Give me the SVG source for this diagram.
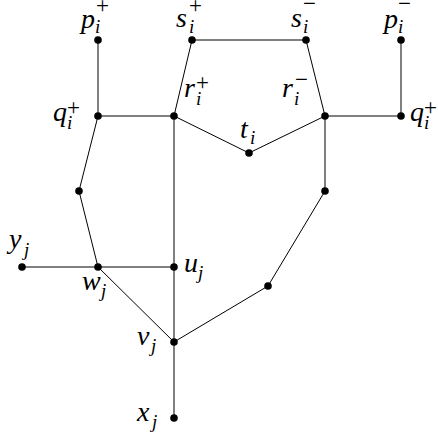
<svg xmlns="http://www.w3.org/2000/svg" width="438" height="436" viewBox="0 0 438 436" font-family="'Liberation Serif', 'Times New Roman', serif">
<style>
.e{stroke:#000;stroke-width:1;fill:none;stroke-linecap:round}
.n{fill:#000}
</style>
<rect width="438" height="436" fill="#fff"/>
<g id="connectors">
<line class="e" x1="98" y1="40" x2="98" y2="116"/>
<line class="e" x1="192" y1="40" x2="306" y2="40"/>
<line class="e" x1="401" y1="40" x2="401" y2="116"/>
<line class="e" x1="98" y1="116" x2="174" y2="116"/>
<line class="e" x1="325" y1="116" x2="401" y2="116"/>
<line class="e" x1="174" y1="116" x2="192" y2="40"/>
<line class="e" x1="325" y1="116" x2="306" y2="40"/>
<line class="e" x1="174" y1="116" x2="249" y2="153"/>
<line class="e" x1="249" y1="153" x2="325" y2="116"/>
<line class="e" x1="98" y1="116" x2="79" y2="191"/>
<line class="e" x1="79" y1="191" x2="98" y2="267"/>
<line class="e" x1="22" y1="267" x2="174" y2="267"/>
<line class="e" x1="174" y1="116" x2="174" y2="418"/>
<line class="e" x1="98" y1="267" x2="174" y2="342"/>
<line class="e" x1="325" y1="116" x2="325" y2="191"/>
<line class="e" x1="325" y1="191" x2="268" y2="286"/>
<line class="e" x1="268" y1="286" x2="174" y2="342"/>
</g>
<g id="p_plus"><circle class="n" cx="98" cy="40" r="3.8"/><text font-size="28" font-style="italic" x="81" y="28">p</text><text font-size="19" font-style="italic" x="95" y="33">i</text><text font-size="23" x="96" y="13">+</text></g>
<g id="s_plus"><circle class="n" cx="192" cy="40" r="3.8"/><text font-size="28" font-style="italic" x="176" y="27">s</text><text font-size="19" font-style="italic" x="189" y="33">i</text><text font-size="23" x="189" y="13">+</text></g>
<g id="s_minus"><circle class="n" cx="306" cy="40" r="3.8"/><text font-size="28" font-style="italic" x="291" y="27">s</text><text font-size="19" font-style="italic" x="303" y="33">i</text><text font-size="23" x="303" y="11">−</text></g>
<g id="p_minus"><circle class="n" cx="401" cy="40" r="3.8"/><text font-size="28" font-style="italic" x="384" y="28">p</text><text font-size="19" font-style="italic" x="398" y="33">i</text><text font-size="23" x="398" y="11">−</text></g>
<g id="q_plus_left"><circle class="n" cx="98" cy="116" r="3.8"/><text font-size="28" font-style="italic" x="53" y="121">q</text><text font-size="19" font-style="italic" x="67" y="129">i</text><text font-size="23" x="67" y="115">+</text></g>
<g id="r_plus"><circle class="n" cx="174" cy="116" r="3.8"/><text font-size="28" font-style="italic" x="184" y="97">r</text><text font-size="19" font-style="italic" x="196" y="105">i</text><text font-size="23" x="196" y="90">+</text></g>
<g id="r_minus"><circle class="n" cx="325" cy="116" r="3.8"/><text font-size="28" font-style="italic" x="282" y="97">r</text><text font-size="19" font-style="italic" x="294" y="105">i</text><text font-size="23" x="295" y="87">−</text></g>
<g id="q_plus_right"><circle class="n" cx="401" cy="116" r="3.8"/><text font-size="28" font-style="italic" x="410" y="121">q</text><text font-size="19" font-style="italic" x="424" y="129">i</text><text font-size="23" x="424" y="115">+</text></g>
<g id="t"><circle class="n" cx="249" cy="153" r="3.8"/><text font-size="28" font-style="italic" x="240" y="138">t</text><text font-size="19" font-style="italic" x="250" y="144">i</text></g>
<g id="a_left"><circle class="n" cx="79" cy="191" r="3.8"/></g>
<g id="a_right"><circle class="n" cx="325" cy="191" r="3.8"/></g>
<g id="y"><circle class="n" cx="22" cy="267" r="3.8"/><text font-size="28" font-style="italic" x="9" y="248">y</text><text font-size="19" font-style="italic" x="24" y="256">j</text></g>
<g id="w"><circle class="n" cx="98" cy="267" r="3.8"/><text font-size="28" font-style="italic" x="82" y="290">w</text><text font-size="19" font-style="italic" x="101" y="297">j</text></g>
<g id="u"><circle class="n" cx="174" cy="267" r="3.8"/><text font-size="28" font-style="italic" x="184" y="272">u</text><text font-size="19" font-style="italic" x="198" y="279">j</text></g>
<g id="b_right"><circle class="n" cx="268" cy="286" r="3.8"/></g>
<g id="v"><circle class="n" cx="174" cy="342" r="3.8"/><text font-size="28" font-style="italic" x="137" y="345">v</text><text font-size="19" font-style="italic" x="151" y="352">j</text></g>
<g id="x"><circle class="n" cx="174" cy="418" r="3.8"/><text font-size="28" font-style="italic" x="137" y="421">x</text><text font-size="19" font-style="italic" x="152" y="428">j</text></g>
</svg>
